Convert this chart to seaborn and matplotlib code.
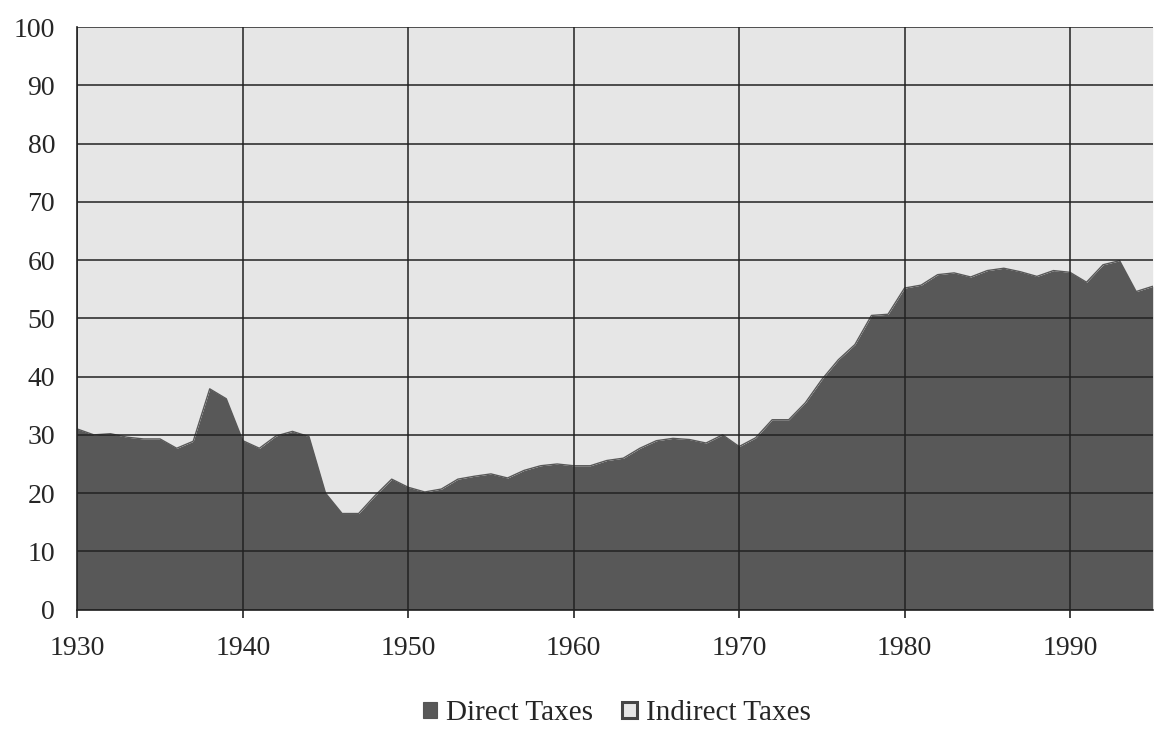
import numpy as np
import pandas as pd
import matplotlib
matplotlib.use("Agg")
import matplotlib.pyplot as plt
from matplotlib.patches import Patch
import seaborn as sns

# share of direct taxes in total tax revenue (%)
years = list(range(1930, 1996))
direct = [31.0, 30.0, 30.2, 29.6, 29.3, 29.3, 27.7, 28.9, 37.9, 36.2,
          29.0, 27.7, 29.8, 30.6, 29.7, 20.0, 16.5, 16.5, 19.6, 22.4,
          21.0, 20.2, 20.7, 22.4, 22.9, 23.3, 22.6, 23.9, 24.7, 25.0,
          24.7, 24.7, 25.6, 26.0, 27.7, 29.0, 29.4, 29.2, 28.6, 30.0,
          28.0, 29.5, 32.6, 32.6, 35.5, 39.5, 42.9, 45.5, 50.5, 50.7,
          55.2, 55.7, 57.5, 57.8, 57.1, 58.2, 58.6, 58.0, 57.2, 58.2,
          57.9, 56.2, 59.2, 59.9, 54.6, 55.5]
labels = ["Direct Taxes", "Indirect Taxes"]
xticks = [1930, 1940, 1950, 1960, 1970, 1980, 1990]
yticks = list(range(0, 101, 10))

df = pd.DataFrame({"year": years, "direct": direct})
df["indirect"] = 100 - df["direct"]

sns.set_theme(style="white")
plt.rcParams["font.family"] = ["Liberation Serif", "DejaVu Serif"]

dark = "#585858"
light = "#e6e6e6"

fig, ax = plt.subplots(figsize=(11.55, 7.31), dpi=100)
fig.subplots_adjust(left=0.067, right=0.998, top=0.963, bottom=0.166)

ax.fill_between(df["year"], 0, df["direct"], color=dark, lw=0, zorder=1)
ax.fill_between(df["year"], df["direct"], df["direct"] + df["indirect"],
                color=light, lw=0, zorder=1)
sns.lineplot(data=df, x="year", y="direct", ax=ax, color=dark, lw=1, zorder=2)

ax.set_xlim(1930, 1995)
ax.set_ylim(0, 100)
ax.set_xticks(xticks)
ax.set_yticks(yticks)
ax.set_xlabel("")
ax.set_ylabel("")
ax.grid(True, color="#222222", lw=1.1, zorder=3)
ax.set_axisbelow(False)
for side in ["top", "right"]:
    ax.spines[side].set_visible(False)
for side in ["left", "bottom"]:
    ax.spines[side].set_color("#222222")
    ax.spines[side].set_linewidth(1.2)
ax.tick_params(axis="x", length=6, width=1.2, color="#222222", labelsize=20,
               pad=13, bottom=True)
ax.tick_params(axis="y", length=0, labelsize=20, pad=16)

handles = [Patch(facecolor=dark, edgecolor="#555555", lw=0.8),
           Patch(facecolor=light, edgecolor="#444444", lw=2.2)]
fig.legend(handles, labels, loc="center", bbox_to_anchor=(0.534, 0.024),
           ncol=2, frameon=False, fontsize=21, handlelength=0.5,
           handleheight=0.5, handletextpad=0.3, columnspacing=1.0,
           borderpad=0.1)

fig.savefig("out.png", dpi=100)
